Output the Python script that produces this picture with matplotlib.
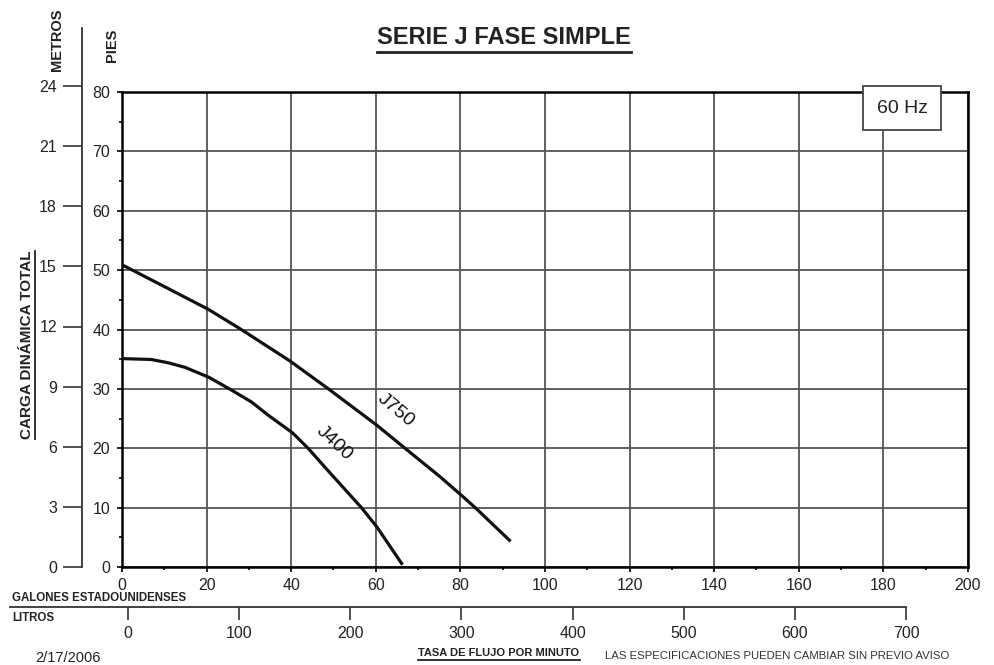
import matplotlib
matplotlib.use("Agg")
import matplotlib.pyplot as plt
from matplotlib.lines import Line2D

plt.rcParams['font.family'] = ['Liberation Sans', 'DejaVu Sans']

# ===== DATA =====
j750_gpm = [0, 10.1, 20.4, 28.2, 39.7, 48.8, 60.2, 66.9, 75.2, 80.2, 83.5, 91.6]
j750_ft = [50.9, 47.2, 43.4, 40.0, 34.7, 30.0, 23.9, 20.0, 15.2, 12.1, 10.0, 4.5]

j400_gpm = [0, 6.9, 10.9, 14.8, 20.4, 25.4, 30.6, 34.5, 40.3, 44.0, 47.6, 56.6, 60.2, 66.1]
j400_ft = [35.1, 34.95, 34.4, 33.65, 32.0, 30.0, 27.8, 25.6, 22.6, 20.0, 17.1, 10.0, 6.8, 0.6]

gal_ticks = list(range(0, 201, 20))
ft_ticks = list(range(0, 81, 10))
m_ticks = list(range(0, 25, 3))
litros_ticks = list(range(0, 701, 100))

W, H = 995, 665
fig = plt.figure(figsize=(W / 100, H / 100), dpi=100)


def fx(px):
    return px / W


def fy(py):
    return 1 - py / H


TXT = '#222222'
GRID = '#555555'

# main axes (feet vs gallons)
ax = fig.add_axes([fx(122), fy(567), fx(968) - fx(122), fy(92) - fy(567)])
ax.set_xlim(0, 200)
ax.set_ylim(0, 80)
ax.set_xticks(gal_ticks)
ax.set_xticks(range(0, 201, 10), minor=True)
ax.set_yticks(ft_ticks)
ax.set_yticks(range(0, 81, 5), minor=True)
ax.grid(True, which='major', color=GRID, linewidth=1.3, zorder=1)
for s in ax.spines.values():
    s.set_linewidth(1.8)
    s.set_color('black')
ax.tick_params(which='major', length=3.6, width=1.2, colors='black', labelcolor=TXT,
               labelsize=11.5)
ax.tick_params(axis='x', which='major', pad=4)
ax.tick_params(axis='y', which='major', pad=5)
ax.tick_params(which='minor', length=2.2, width=1.2, colors='black')

ax.plot(j750_gpm, j750_ft, color='#111111', linewidth=2.3, zorder=3)
ax.plot(j400_gpm, j400_ft, color='#111111', linewidth=2.3, zorder=3)

ax.text(64.8, 26.4, 'J750', rotation=-40, fontsize=14, color='#111111',
        ha='center', va='center', zorder=4)
ax.text(50.1, 20.9, 'J400', rotation=-43, fontsize=14, color='#111111',
        ha='center', va='center', zorder=4)

ax.text(184.4, 77.3, '60 Hz', fontsize=14, color='#222222', ha='center', va='center',
        zorder=6, clip_on=False,
        bbox=dict(boxstyle='square,pad=0.7', facecolor='white', edgecolor='#444444',
                  linewidth=1.3))

# metros axis
top_val = 24 * (567 - 28) / (567 - 86)
axm = fig.add_axes([fx(82), fy(567), 0.001, fy(28) - fy(567)])
axm.set_ylim(0, top_val)
axm.set_yticks(m_ticks)
axm.set_xticks([])
for k in ['top', 'right', 'bottom']:
    axm.spines[k].set_visible(False)
axm.spines['left'].set_linewidth(1.3)
axm.spines['left'].set_color('#333333')
axm.patch.set_visible(False)
axm.tick_params(axis='y', length=13.7, width=1.2, colors='#333333', labelcolor=TXT,
                labelsize=11.5, pad=4.3)

# litros axis
lit_px0, lit_px700 = 128, 906
per_px = 700 / (lit_px700 - lit_px0)
axl = fig.add_axes([fx(10), fy(607), fx(906) - fx(10), 0.001])
axl.set_xlim(-(lit_px0 - 10) * per_px, 700)
axl.set_xticks(litros_ticks)
axl.set_yticks([])
for k in ['top', 'right', 'left']:
    axl.spines[k].set_visible(False)
axl.spines['bottom'].set_linewidth(1.3)
axl.spines['bottom'].set_color('#333333')
axl.patch.set_visible(False)
axl.tick_params(axis='x', length=9.4, width=1.2, colors='#333333', labelcolor=TXT,
                labelsize=11.5, pad=4.3)

# texts
renderer = fig.canvas.get_renderer()


def underline(t, off=3, lw=1.5):
    bb = t.get_window_extent(renderer=renderer)
    tr = fig.transFigure.inverted()
    if t.get_rotation() == 90:
        (x0, y0), (x1, y1) = tr.transform([(bb.x1 + off, bb.y0), (bb.x1 + off, bb.y1)])
    else:
        (x0, y0), (x1, y1) = tr.transform([(bb.x0, bb.y0 - off), (bb.x1, bb.y0 - off)])
    fig.add_artist(Line2D([x0, x1], [y0, y1], color='#222222', linewidth=lw,
                          transform=fig.transFigure))


t = fig.text(fx(504), fy(37), 'SERIE J FASE SIMPLE', fontsize=17, fontweight='bold',
             color='#222222', ha='center', va='center')
underline(t, off=3, lw=2)

fig.text(fx(112), fy(45), 'PIES', fontsize=10.5, fontweight='bold', rotation=90,
         color='#222222', ha='center', va='center')
fig.text(fx(57), fy(40), 'METROS', fontsize=10.5, fontweight='bold', rotation=90,
         color='#222222', ha='center', va='center')
t = fig.text(fx(27), fy(345), 'CARGA DINÁMICA TOTAL', fontsize=11, fontweight='bold',
             rotation=90, color='#222222', ha='center', va='center')
underline(t, off=1, lw=1.3)

fig.text(fx(12), fy(598), 'GALONES ESTADOUNIDENSES', fontsize=8.3, fontweight='bold',
         color='#222222', ha='left', va='center')
fig.text(fx(12), fy(618), 'LITROS', fontsize=8.3, fontweight='bold',
         color='#222222', ha='left', va='center')
fig.text(fx(35), fy(658), '2/17/2006', fontsize=10.5, color='#222222',
         ha='left', va='center')
t = fig.text(fx(499), fy(653), 'TASA DE FLUJO POR MINUTO', fontsize=8, fontweight='bold',
             color='#222222', ha='center', va='center')
underline(t, off=2, lw=1.3)
fig.text(fx(777), fy(656), 'LAS ESPECIFICACIONES PUEDEN CAMBIAR SIN PREVIO AVISO',
         fontsize=8.2, color='#333333', ha='center', va='center')

fig.savefig('out.png', dpi=100, facecolor='white')
